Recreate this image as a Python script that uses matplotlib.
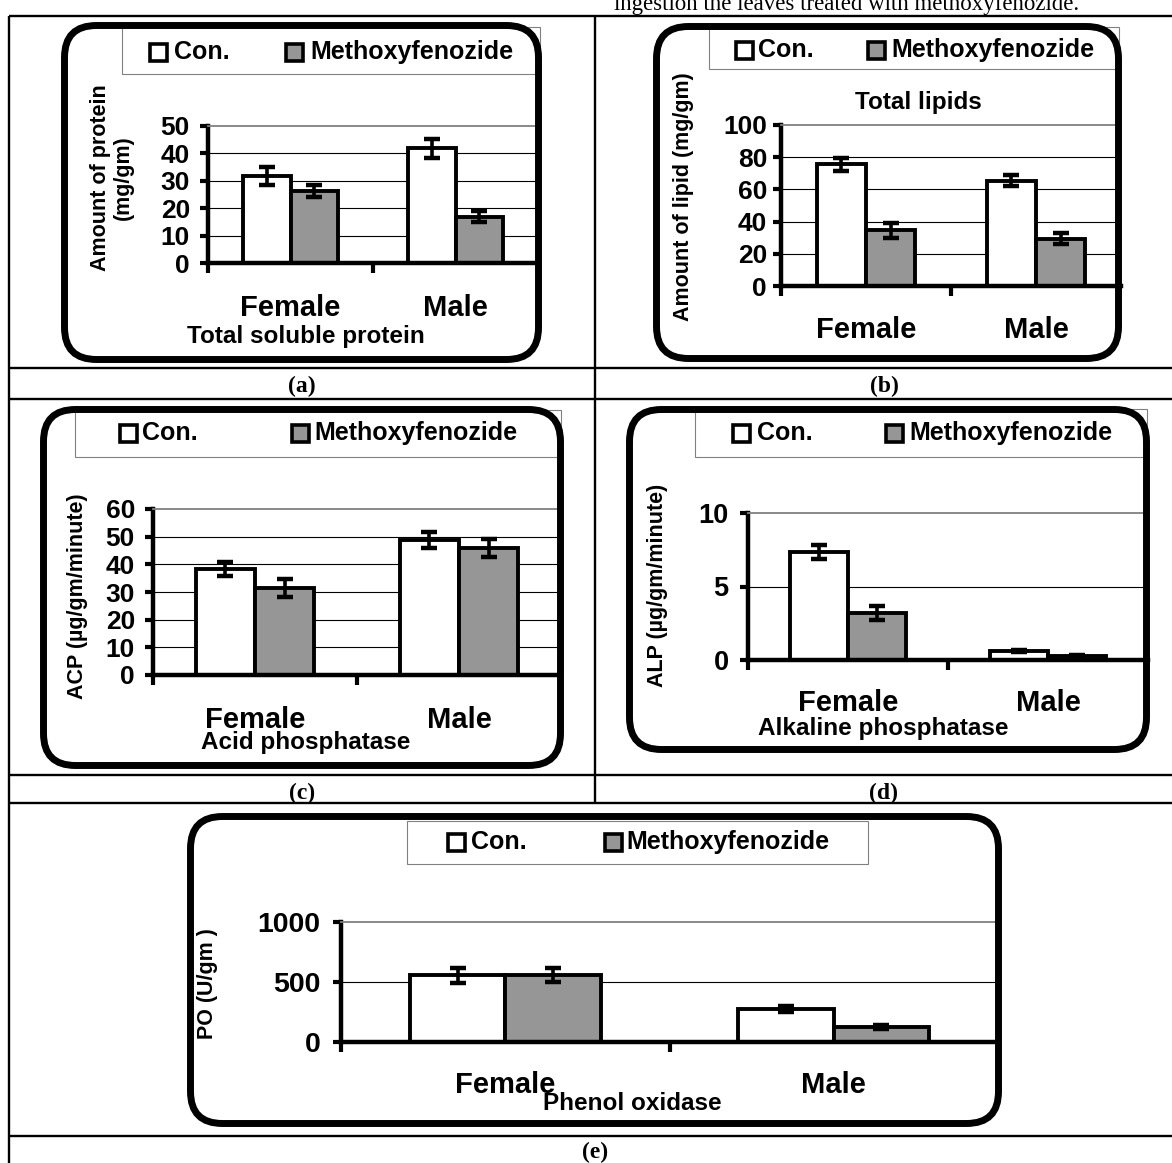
import numpy as np
import matplotlib
matplotlib.use("Agg")
import matplotlib.pyplot as plt
from matplotlib.patches import FancyBboxPatch, Rectangle
from matplotlib.transforms import blended_transform_factory

plt.rcParams["font.family"] = ["Liberation Sans", "DejaVu Sans"]
plt.rcParams["font.weight"] = "bold"

W, H = 1172, 1163  # output size in pixels

# ---- values ----
groups = ["Female", "Male"]
series_names = ["Con.", "Methoxyfenozide"]

protein_con = [31.8, 41.8]
protein_con_err = [3.2, 3.5]
protein_meth = [26.3, 16.9]
protein_meth_err = [2.1, 2.0]

lipid_con = [75.5, 65.5]
lipid_con_err = [4.2, 3.6]
lipid_meth = [34.5, 29.5]
lipid_meth_err = [4.5, 3.6]

acp_con = [38.3, 48.8]
acp_con_err = [2.5, 2.9]
acp_meth = [31.4, 45.9]
acp_meth_err = [3.2, 3.3]

alp_con = [7.35, 0.6]
alp_con_err = [0.48, 0.05]
alp_meth = [3.2, 0.3]
alp_meth_err = [0.48, 0.05]

po_con = [555, 275]
po_con_err = [65, 22]
po_meth = [558, 125]
po_meth_err = [55, 18]

GRAY = "#969696"

# layout of each cell (pixel coords, y measured from the top)
PANELS = [
    dict(vals=(protein_con, protein_con_err, protein_meth, protein_meth_err),
         ymax=50, ystep=10, ax=(208, 538, 125.7, 263.3), box=(64.5, 25.5, 538.5, 359.5),
         legend=(122, 27, 540, 74), marks=((158.5, 174), (294.5, 310)), leg_y=52,
         ylabel="Amount of protein\n(mg/gm)", ylabel_xy=(112, 178),
         title="Total soluble protein", title_xy=(306, 337), cat_y=308,
         tsize=19, pad=7, xt=[-0.5, 0.5], tag="(a)", tag_xy=(302, 386)),
    dict(vals=(lipid_con, lipid_con_err, lipid_meth, lipid_meth_err),
         ymax=100, ystep=20, ax=(781, 1121, 125, 286), box=(656.5, 26.5, 1118.5, 358.5),
         legend=(709, 27, 1119, 69), marks=((744, 758), (876, 891)), leg_y=50,
         ylabel="Amount of lipid (mg/gm)", ylabel_xy=(683, 197),
         title="Total lipids", title_xy=(918, 102), cat_y=330,
         tsize=19, pad=4, xt=[-0.5, 0.5], tag="(b)", tag_xy=(884, 386)),
    dict(vals=(acp_con, acp_con_err, acp_meth, acp_meth_err),
         ymax=60, ystep=10, ax=(153, 561, 509, 675), box=(43.5, 409.5, 560.5, 765.5),
         legend=(75, 410, 561, 457), marks=((128.5, 142), (300.5, 314)), leg_y=433,
         ylabel="ACP (\u00b5g/gm/minute)", ylabel_xy=(77, 596),
         title="Acid phosphatase", title_xy=(306, 743), cat_y=720,
         tsize=19, pad=7, xt=[-0.5, 0.5], tag="(c)", tag_xy=(302, 793)),
    dict(vals=(alp_con, alp_con_err, alp_meth, alp_meth_err),
         ymax=10, ystep=5, ax=(748, 1148, 513, 660), box=(629.5, 409.5, 1146.5, 749.5),
         legend=(695, 409, 1147, 457), marks=((741.5, 757), (894.5, 909)), leg_y=433,
         ylabel="ALP (\u00b5g/gm/minute)", ylabel_xy=(657, 585),
         title="Alkaline phosphatase", title_xy=(883, 728), cat_y=703,
         tsize=19.5, pad=8, xt=[-0.5, 0.5], tag="(d)", tag_xy=(884, 793)),
    dict(vals=(po_con, po_con_err, po_meth, po_meth_err),
         ymax=1000, ystep=500, ax=(341, 998, 922, 1042), box=(190.5, 816.5, 998.5, 1123.5),
         legend=(407, 821, 868, 864), marks=((456, 471), (613, 626)), leg_y=842,
         ylabel="PO (U/gm )", ylabel_xy=(207, 984),
         title="Phenol oxidase", title_xy=(632, 1103), cat_y=1085,
         tsize=20.5, pad=9, xt=[-0.5, 0.5, 1.5], tag="(e)", tag_xy=(595, 1152)),
]

fig = plt.figure(figsize=(W / 100, H / 100), dpi=100)
fig.patch.set_facecolor("white")

# overlay axes in pixel units for the table, boxes and free text
ov = fig.add_axes([0, 0, 1, 1], zorder=10)
ov.set_xlim(0, W)
ov.set_ylim(H, 0)
ov.axis("off")
ov.patch.set_alpha(0)

x = np.arange(len(groups))
bw = 0.29

for p in PANELS:
    con, con_err, meth, meth_err = p["vals"]
    left, right, top, bottom = p["ax"]
    ax = fig.add_axes([left / W, 1 - bottom / H, (right - left) / W, (bottom - top) / H])
    ax.set_xlim(-0.5, 1.5)
    ax.set_ylim(0, p["ymax"])
    ticks = np.arange(0, p["ymax"] + 1, p["ystep"])
    ax.set_yticks(ticks)
    for t in ticks[1:-1]:
        ax.axhline(t, color="black", lw=0.8, zorder=0.5)

    ax.bar(x - bw / 2, con, bw, color="white", edgecolor="black", lw=2.8, zorder=2)
    ax.bar(x + bw / 2, meth, bw, color=GRAY, edgecolor="black", lw=2.8, zorder=2)
    ax.errorbar(x - bw / 2, con, yerr=con_err, fmt="none", ecolor="black",
                elinewidth=2.6, capsize=6, capthick=3.2, zorder=3)
    ax.errorbar(x + bw / 2, meth, yerr=meth_err, fmt="none", ecolor="black",
                elinewidth=2.6, capsize=6, capthick=3.2, zorder=3)

    ax.spines["right"].set_visible(False)
    ax.spines["top"].set_color("#808080")
    ax.spines["top"].set_linewidth(1.3)
    ax.spines["left"].set_linewidth(3.2)
    ax.spines["bottom"].set_linewidth(3.2)
    ax.set_xticks(p["xt"])
    ax.set_xticklabels([])
    ax.tick_params(axis="x", direction="out", length=7, width=3)
    ax.tick_params(axis="y", direction="out", length=6, width=3,
                   labelsize=p["tsize"], pad=p["pad"])
    ax.set_facecolor("white")

    tr = blended_transform_factory(ax.transData, fig.transFigure)
    for xi, g in zip(x, groups):
        ax.text(xi, 1 - p["cat_y"] / H, g, transform=tr, ha="center", va="center",
                fontsize=21, clip_on=False)

    # chart frame and legend
    bx0, by0, bx1, by1 = p["box"]
    lx0, ly0, lx1, ly1 = p["legend"]
    ov.add_patch(Rectangle((lx0, ly0), lx1 - lx0, ly1 - ly0, fc="white",
                           ec="#808080", lw=0.8, zorder=2))
    for (mx, tx), name, fc in zip(p["marks"], series_names, ["white", GRAY]):
        ov.add_patch(Rectangle((mx - 8.5, p["leg_y"] - 8.5), 17, 17, fc=fc, ec="black",
                               lw=2.6, zorder=3))
        ov.text(tx, p["leg_y"], name, ha="left", va="center", fontsize=18, zorder=3)
    ov.add_patch(FancyBboxPatch((bx0, by0), bx1 - bx0, by1 - by0,
                                boxstyle="round,pad=0,rounding_size=32",
                                fc="none", ec="black", lw=5, zorder=5))

    ov.text(*p["ylabel_xy"], p["ylabel"], rotation=90, ha="center", va="center",
            fontsize=15.5, multialignment="center", linespacing=1.15)
    ov.text(*p["title_xy"], p["title"], ha="center", va="center", fontsize=17.5, zorder=4)
    ov.text(*p["tag_xy"], p["tag"], ha="center", va="center", fontsize=17,
            family="Liberation Serif", fontweight="bold")

# table rules
ov.hlines([16, 368, 399, 775, 803, 1136], 8.5, W, color="black", lw=1.7)
ov.vlines(8.5, 16, H, color="black", lw=1.7)
ov.vlines(595, 16, 803, color="black", lw=1.7)

# caption line cut off at the top of the page
ov.text(614, 10, "ingestion the leaves treated with methoxyfenozide.", ha="left",
        va="baseline", fontsize=16.5, family="Liberation Serif", fontweight="normal")

fig.savefig("out.png", dpi=100)
